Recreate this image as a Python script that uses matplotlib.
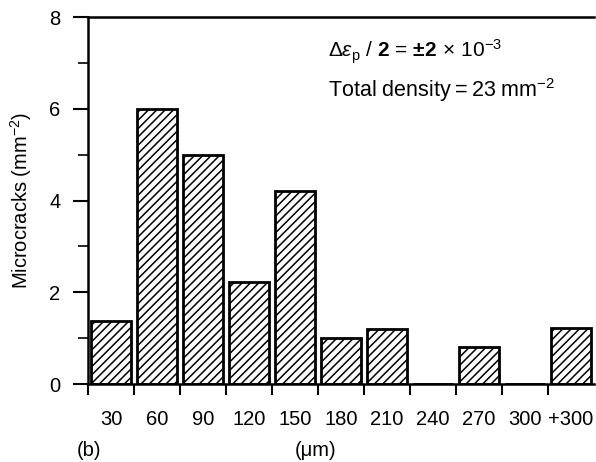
import numpy as np
import matplotlib.pyplot as plt
from matplotlib.ticker import MultipleLocator, FixedLocator

plt.rcParams["font.family"] = ["Liberation Sans", "DejaVu Sans"]
plt.rcParams["mathtext.fontset"] = "custom"
plt.rcParams["mathtext.rm"] = "Liberation Sans"
plt.rcParams["mathtext.it"] = "Liberation Sans:italic"
plt.rcParams["mathtext.bf"] = "Liberation Sans:bold"
plt.rcParams["hatch.linewidth"] = 1.1

# crack length classes (um) and microcrack density (mm^-2)
bins = ["30", "60", "90", "120", "150", "180", "210", "240", "270", "300", "+300"]
density = [1.38, 6.0, 5.0, 2.22, 4.2, 1.0, 1.21, 0.0, 0.8, 0.0, 1.22]

fs = 14.5

fig = plt.figure(figsize=(5.96, 4.62), dpi=100)
ax = fig.add_axes([0.1477, 0.1688, 0.8489, 0.7944])

x = np.arange(len(bins)) + 0.5
ax.bar(x, density, width=0.85, color="white", edgecolor="black",
       linewidth=2.0, hatch="////")

ax.set_xlim(0, len(bins))
ax.set_ylim(0, 8)

# labels centred under bars, ticks at class boundaries
ax.xaxis.set_major_locator(FixedLocator(x))
ax.set_xticklabels(bins)
ax.xaxis.set_minor_locator(FixedLocator(np.arange(0, len(bins))))
ax.tick_params(axis="x", which="major", length=0, pad=19, labelsize=fs)
ax.tick_params(axis="x", which="minor", length=8, width=1.5, direction="out")

ax.yaxis.set_major_locator(MultipleLocator(2))
ax.yaxis.set_minor_locator(MultipleLocator(1))
ax.tick_params(axis="y", which="major", length=11, width=1.5, labelsize=fs, pad=9)
ax.tick_params(axis="y", which="minor", length=7, width=1.2)

for s in ["left", "bottom", "top"]:
    ax.spines[s].set_linewidth(1.8)
ax.spines["right"].set_visible(False)

ax.set_ylabel("Microcracks (mm$^{-2}$)", fontsize=fs, labelpad=11)

fig.text(0.128, 0.005, "(b)", fontsize=fs, ha="left", va="bottom")
fig.text(0.529, 0.005, "(\u03bcm)", fontsize=fs, ha="center", va="bottom")

line1 = (r"$\Delta\varepsilon_\mathrm{p}$ / $\mathbf{2}$ = $\mathbf{\pm 2}$"
         r"$\,\times\,$10$^{-3}$")
ax.text(0.475, 0.905, line1,
        transform=ax.transAxes, fontsize=15, ha="left", va="center")
ax.text(0.475, 0.80, "Total density\u2009=\u200923 mm$^{-2}$",
        transform=ax.transAxes, fontsize=15.5, ha="left", va="center")

fig.savefig("out.png", dpi=100)
